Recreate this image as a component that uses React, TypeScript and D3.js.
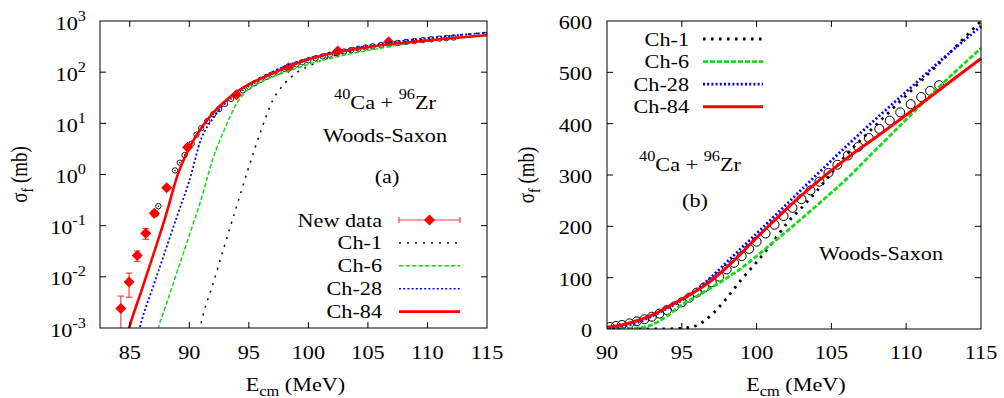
import React from 'react'
import * as d3 from 'd3'

// fusion cross sections, E_cm (MeV) vs sigma_f (mb)
const ch1: [number, number][] = [
  [90.5, 3e-4], [91, 1.26e-3], [92, 7.4e-3], [93, 0.044], [94, 0.25], [95, 1.4],
  [96, 7], [97, 28], [98, 60], [99, 97], [100, 130], [101, 166], [102, 205],
  [103, 236], [104, 268], [106, 339], [108, 398], [110, 455], [112, 512], [115, 600],
]
const ch6: [number, number][] = [
  [87, 4e-4], [87.4, 1e-3], [88, 2.6e-3], [89, 0.013], [90, 0.065], [91, 0.33],
  [92, 2.1], [93, 8], [94, 25], [95, 47], [96, 64], [97, 81], [98, 99], [99, 119],
  [100, 142], [101, 166], [102, 190], [104, 240], [106, 292], [108, 350],
  [110, 408], [112, 466], [115, 547],
]
const ch28: [number, number][] = [
  [85.5, 5e-4], [86, 1.4e-3], [87, 6.8e-3], [88, 0.033], [89, 0.16], [90, 0.75],
  [91, 5], [92, 12.5], [93, 25], [94, 40], [95, 56], [96, 76], [97, 102], [98, 130],
  [99, 158], [100, 186], [102, 243], [104, 300], [106, 356], [108, 410],
  [110, 462], [112, 515], [115, 590],
]
const ch84: [number, number][] = [
  [84.5, 4e-4], [85, 1.1e-3], [86, 5.5e-3], [87, 0.028], [88, 0.15], [89, 0.95],
  [90, 3.3], [91, 8], [92, 16], [93, 27], [94, 42], [95, 58], [96, 75], [97, 95],
  [98, 120], [99, 148], [100, 178], [101, 206], [102, 234], [104, 285], [106, 332],
  [108, 374], [110, 417], [112, 461], [115, 527],
]

// earlier measurement (open circles)
const oldData: [number, number][] = [
  [87.2, 0.17], [87.4, 0.24], [88.8, 1.2], [89.2, 1.7], [89.6, 2.4], [90.2, 4],
  [90.6, 6], [91.0, 8], [91.5, 11], [92.0, 15], [92.5, 19], [93.0, 24], [93.5, 30],
  [94.0, 37], [94.5, 44], [95.0, 52], [95.5, 61], [96.0, 71], [96.5, 81], [97.0, 91],
  [97.5, 102], [98.0, 116], [98.5, 129], [99.0, 142], [99.5, 156], [100.0, 170],
  [100.6, 186], [101.2, 203], [101.8, 220], [102.4, 236], [103.0, 253], [103.6, 270],
  [104.2, 287], [104.8, 304], [105.4, 320], [106.1, 338], [106.8, 355], [107.5, 372],
  [108.2, 390], [108.9, 406], [109.6, 422], [110.3, 438], [111.0, 452], [111.6, 464],
  [112.2, 475],
]

// new data (red diamonds) with errors
const newE = [84.25, 84.94, 85.63, 86.34, 87.06, 88.1, 89.86, 93.96, 98.32, 102.47, 106.74]
const newSigma = [0.0024, 0.0079, 0.026, 0.071, 0.175, 0.55, 3.4, 36, 122, 259, 394]
const newErr = [0.0018, 0.0039, 0.006, 0.017, 0.02, 0.03, 0.15, 1.5, 5, 10, 15]

const logXTicks = [85, 90, 95, 100, 105, 110, 115]
const logYTicks = [-3, -2, -1, 0, 1, 2, 3]
const linXTicks = [90, 95, 100, 105, 110, 115]
const linYTicks = [0, 100, 200, 300, 400, 500, 600]
const channelNames = ['Ch-1', 'Ch-6', 'Ch-28', 'Ch-84']
const channels = [ch1, ch6, ch28, ch84]

const FONT = "'Liberation Serif', 'Times New Roman', serif"
const SX = 1.17 // figure text is stretched a bit horizontally
const GREEN = '#14dc14'
const colors = ['#000000', GREEN, '#0000ff', '#ff0000']
const leftStyle = [
  { w: 1.5, dash: '2 6' },
  { w: 1.5, dash: '4.5 2' },
  { w: 1.8, dash: '2 2.2' },
  { w: 2.6, dash: undefined },
]
const rightStyle = [
  { w: 2.8, dash: '2.5 5.5' },
  { w: 2.8, dash: '5 2' },
  { w: 2.8, dash: '2 2.2' },
  { w: 3, dash: undefined },
]

function T({ x, y, anchor = 'start', size = 19, rotate = 0, children }: any) {
  const tr = `translate(${x},${y}) scale(${SX},1)` + (rotate ? ` rotate(${rotate})` : '')
  return (
    <text transform={tr} textAnchor={anchor} fontSize={size} fontFamily={FONT} fill="#000">
      {children}
    </text>
  )
}

function Reaction({ x, y }: { x: number; y: number }) {
  return (
    <T x={x} y={y} anchor="middle">
      <tspan fontSize={14} dy={-10}>40</tspan>
      <tspan dy={10}>Ca + </tspan>
      <tspan fontSize={14} dy={-10}>96</tspan>
      <tspan dy={10}>Zr</tspan>
    </T>
  )
}

function Diamond({ cx, cy, r = 5.5 }: { cx: number; cy: number; r?: number }) {
  return <path d={`M${cx},${cy - r}L${cx + r},${cy}L${cx},${cy + r}L${cx - r},${cy}Z`} fill="#ff0000" />
}

function Frame({ x0, x1, y0, y1, xs, ys }: any) {
  const tl = 6
  return (
    <g stroke="#000" strokeWidth={1} fill="none">
      <rect x={x0} y={y0} width={x1 - x0} height={y1 - y0} />
      {xs.map((v: number, i: number) => (
        <g key={'x' + i}>
          <line x1={v} x2={v} y1={y1} y2={y1 - tl} />
          <line x1={v} x2={v} y1={y0} y2={y0 + tl} />
        </g>
      ))}
      {ys.map((v: number, i: number) => (
        <g key={'y' + i}>
          <line x1={x0} x2={x0 + tl} y1={v} y2={v} />
          <line x1={x1} x2={x1 - tl} y1={v} y2={v} />
        </g>
      ))}
    </g>
  )
}

function LogPanel() {
  const x0 = 100, x1 = 487, y0 = 21, y1 = 328
  const x = d3.scaleLinear().domain([82.5, 115]).range([x0, x1])
  const y = d3.scaleLog().domain([1e-3, 1e3]).range([y1, y0])
  const line = d3
    .line<[number, number]>()
    .x((d) => x(d[0]))
    .y((d) => y(d[1]))
    .curve(d3.curveMonotoneX)
  const lx1 = 399, lx2 = 460
  const rowY = (i: number) => 220 + i * 22.9
  return (
    <g>
      <defs>
        <clipPath id="clipL">
          <rect x={x0} y={y0} width={x1 - x0} height={y1 - y0} />
        </clipPath>
      </defs>
      <g clipPath="url(#clipL)">
        {oldData.map((d, i) => (
          <g key={i}>
            <circle cx={x(d[0])} cy={y(d[1])} r={2.7} fill="none" stroke="#000" strokeWidth={0.9} />
            <circle cx={x(d[0])} cy={y(d[1])} r={0.8} fill="#000" />
          </g>
        ))}
        {newE.map((e, i) => {
          const lo = Math.max(newSigma[i] - newErr[i], 1e-5)
          const hi = newSigma[i] + newErr[i]
          const cx = x(e)
          return (
            <g key={i}>
              <g stroke="#ff4040" strokeWidth={1.2}>
                <line x1={cx} x2={cx} y1={y(lo)} y2={y(hi)} />
                <line x1={cx - 3.3} x2={cx + 3.3} y1={y(hi)} y2={y(hi)} />
                <line x1={cx - 3.3} x2={cx + 3.3} y1={y(lo)} y2={y(lo)} />
              </g>
              <Diamond cx={cx} cy={y(newSigma[i])} />
            </g>
          )
        })}
        {channels.map((c, i) => (
          <path
            key={i}
            d={line(c) || ''}
            fill="none"
            stroke={colors[i]}
            strokeWidth={leftStyle[i].w}
            strokeDasharray={leftStyle[i].dash}
          />
        ))}
      </g>
      <Frame x0={x0} x1={x1} y0={y0} y1={y1} xs={logXTicks.slice(0, -1).map(x)} ys={logYTicks.slice(1, -1).map((p) => y(Math.pow(10, p)))} />
      {logXTicks.map((t) => (
        <T key={t} x={x(t)} y={359} anchor="middle">{t}</T>
      ))}
      {logYTicks.map((p) => (
        <T key={p} x={86} y={y(Math.pow(10, p)) + 8.5} anchor="end">
          <tspan>10</tspan>
          <tspan fontSize={14} dy={-9}>{p}</tspan>
        </T>
      ))}
      <T x={(x0 + x1) / 2 + 2} y={391} anchor="middle">
        <tspan>E</tspan>
        <tspan fontSize={14} dy={5}>cm</tspan>
        <tspan dy={-5}> (MeV)</tspan>
      </T>
      <T x={27} y={(y0 + y1) / 2} anchor="middle" rotate={-90}>
        <tspan>σ</tspan>
        <tspan fontSize={14} dy={5}>f</tspan>
        <tspan dy={-5}> (mb)</tspan>
      </T>
      <Reaction x={385} y={109} />
      <T x={385} y={142} anchor="middle">Woods-Saxon</T>
      <T x={387} y={183} anchor="middle">(a)</T>
      {/* legend */}
      <T x={382} y={rowY(0) + 6.5} anchor="end">New data</T>
      <g stroke="#ff4040" strokeWidth={1.2}>
        <line x1={lx1} x2={lx2} y1={rowY(0)} y2={rowY(0)} />
        <line x1={lx1} x2={lx1} y1={rowY(0) - 3} y2={rowY(0) + 3} />
        <line x1={lx2} x2={lx2} y1={rowY(0) - 3} y2={rowY(0) + 3} />
      </g>
      <Diamond cx={(lx1 + lx2) / 2} cy={rowY(0)} />
      {channelNames.map((n, i) => (
        <g key={n}>
          <T x={382} y={rowY(i + 1) + 6.5} anchor="end">{n}</T>
          <line
            x1={lx1}
            x2={lx2}
            y1={rowY(i + 1)}
            y2={rowY(i + 1)}
            stroke={colors[i]}
            strokeWidth={i === 3 ? 2.8 : 1.5}
            strokeDasharray={leftStyle[i].dash}
          />
        </g>
      ))}
    </g>
  )
}

function LinPanel() {
  const x0 = 607, x1 = 981, y0 = 21, y1 = 329
  const x = d3.scaleLinear().domain([90, 115]).range([x0, x1])
  const y = d3.scaleLinear().domain([0, 600]).range([y1, y0])
  const line = d3
    .line<[number, number]>()
    .x((d) => x(d[0]))
    .y((d) => y(d[1]))
    .curve(d3.curveMonotoneX)
  const lx1 = 703, lx2 = 763
  const rowY = (i: number) => 39 + i * 22.6
  const inRange = (c: [number, number][]) => {
    const k = c.findIndex((d) => d[0] >= 90)
    return c.slice(Math.max(0, k - 1))
  }
  return (
    <g>
      <defs>
        <clipPath id="clipR">
          <rect x={x0} y={y0 - 2} width={x1 - x0 + 2} height={y1 - y0 + 2} />
        </clipPath>
      </defs>
      <g clipPath="url(#clipR)">
        {oldData
          .filter((d) => d[0] >= 90)
          .map((d, i) => (
            <circle key={i} cx={x(d[0])} cy={y(d[1])} r={4.5} fill="none" stroke="#000" strokeWidth={1} />
          ))}
        {channels.map((c, i) => (
          <path
            key={i}
            d={line(inRange(c)) || ''}
            fill="none"
            stroke={colors[i]}
            strokeWidth={rightStyle[i].w}
            strokeDasharray={rightStyle[i].dash}
          />
        ))}
      </g>
      <Frame x0={x0} x1={x1} y0={y0} y1={y1} xs={linXTicks.slice(1, -1).map(x)} ys={linYTicks.slice(1, -1).map(y)} />
      {linXTicks.map((t) => (
        <T key={t} x={x(t)} y={359} anchor="middle">{t}</T>
      ))}
      {linYTicks.map((t) => (
        <T key={t} x={592} y={y(t) + 8} anchor="end">{t}</T>
      ))}
      <T x={(x0 + x1) / 2 + 2} y={391} anchor="middle">
        <tspan>E</tspan>
        <tspan fontSize={14} dy={5}>cm</tspan>
        <tspan dy={-5}> (MeV)</tspan>
      </T>
      <T x={534} y={(y0 + y1) / 2} anchor="middle" rotate={-90}>
        <tspan>σ</tspan>
        <tspan fontSize={14} dy={5}>f</tspan>
        <tspan dy={-5}> (mb)</tspan>
      </T>
      <Reaction x={690} y={171} />
      <T x={695} y={207} anchor="middle">(b)</T>
      <T x={881} y={260} anchor="middle">Woods-Saxon</T>
      {channelNames.map((n, i) => (
        <g key={n}>
          <T x={689} y={rowY(i) + 6.5} anchor="end">{n}</T>
          <line
            x1={lx1}
            x2={lx2}
            y1={rowY(i)}
            y2={rowY(i)}
            stroke={colors[i]}
            strokeWidth={rightStyle[i].w}
            strokeDasharray={rightStyle[i].dash}
          />
        </g>
      ))}
    </g>
  )
}

export default function App() {
  return (
    <svg
      width={1004}
      height={398}
      style={{ position: 'absolute', left: 0, top: 0, background: '#fff' }}
    >
      <rect width={1004} height={398} fill="#fff" />
      <LogPanel />
      <LinPanel />
    </svg>
  )
}
